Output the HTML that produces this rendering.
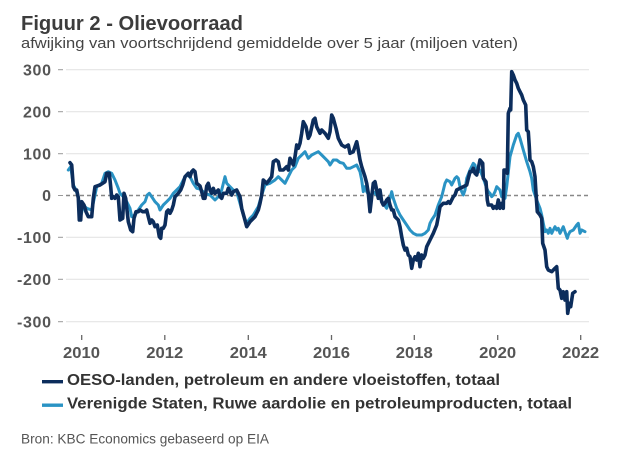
<!DOCTYPE html>
<html><head><meta charset="utf-8"><style>
html,body{margin:0;padding:0;background:#fff;}
svg{display:block;}
text{font-family:"Liberation Sans",sans-serif;}
</style></head><body>
<svg width="626" height="458" viewBox="0 0 626 458" xmlns="http://www.w3.org/2000/svg">
<rect width="626" height="458" fill="#fff"/>
<text x="21" y="30" font-size="20" font-weight="bold" fill="#3c3c3c" textLength="222" lengthAdjust="spacingAndGlyphs">Figuur 2 - Olievoorraad</text>
<text x="21" y="48" font-size="15" fill="#444" textLength="497" lengthAdjust="spacingAndGlyphs">afwijking van voortschrijdend gemiddelde over 5 jaar (miljoen vaten)</text>
<g stroke="#e4e4e4" stroke-width="1.2">
<line x1="66" y1="69.7" x2="589" y2="69.7"/>
<line x1="66" y1="111.7" x2="589" y2="111.7"/>
<line x1="66" y1="153.7" x2="589" y2="153.7"/>
<line x1="66" y1="237.3" x2="589" y2="237.3"/>
<line x1="66" y1="279.3" x2="589" y2="279.3"/>
<line x1="66" y1="321.7" x2="589" y2="321.7"/>
</g>
<g stroke="#999" stroke-width="1">
<line x1="58" y1="69.7" x2="63" y2="69.7"/>
<line x1="58" y1="111.7" x2="63" y2="111.7"/>
<line x1="58" y1="153.7" x2="63" y2="153.7"/>
<line x1="58" y1="195.5" x2="63" y2="195.5"/>
<line x1="58" y1="237.3" x2="63" y2="237.3"/>
<line x1="58" y1="279.3" x2="63" y2="279.3"/>
<line x1="58" y1="321.7" x2="63" y2="321.7"/>
</g>
<line x1="66" y1="195.5" x2="589" y2="195.5" stroke="#888" stroke-width="1.6" stroke-dasharray="4,3"/>
<g font-size="16" font-weight="bold" fill="#555" text-anchor="end" lengthAdjust="spacingAndGlyphs">
<text x="51" y="75.5" textLength="28">300</text>
<text x="51" y="117.5" textLength="28">200</text>
<text x="51" y="159.5" textLength="28">100</text>
<text x="51" y="201" textLength="9.5">0</text>
<text x="51" y="243" textLength="34">-100</text>
<text x="51" y="285" textLength="34">-200</text>
<text x="51" y="327.5" textLength="34">-300</text>
</g>
<g stroke="#666" stroke-width="1.3">
<line x1="81.7" y1="335" x2="81.7" y2="340"/>
<line x1="164.8" y1="335" x2="164.8" y2="340"/>
<line x1="248.3" y1="335" x2="248.3" y2="340"/>
<line x1="331.5" y1="335" x2="331.5" y2="340"/>
<line x1="414.3" y1="335" x2="414.3" y2="340"/>
<line x1="497.7" y1="335" x2="497.7" y2="340"/>
<line x1="580.7" y1="335" x2="580.7" y2="340"/>
</g>
<g font-size="16" font-weight="bold" fill="#555" text-anchor="middle">
<text x="81.5" y="358" textLength="37" lengthAdjust="spacingAndGlyphs">2010</text>
<text x="164.8" y="358" textLength="37" lengthAdjust="spacingAndGlyphs">2012</text>
<text x="248.3" y="358" textLength="37" lengthAdjust="spacingAndGlyphs">2014</text>
<text x="331.5" y="358" textLength="37" lengthAdjust="spacingAndGlyphs">2016</text>
<text x="414.3" y="358" textLength="37" lengthAdjust="spacingAndGlyphs">2018</text>
<text x="497.7" y="358" textLength="37" lengthAdjust="spacingAndGlyphs">2020</text>
<text x="580.7" y="358" textLength="37" lengthAdjust="spacingAndGlyphs">2022</text>
</g>
<polyline fill="none" stroke="#2a93c4" stroke-width="3" stroke-linejoin="round" stroke-linecap="round" points="68.3,170 70.7,166.7 73.3,185 75,188 78.3,196.7 80.7,216.7 83.3,205 86.7,208.3 91.7,210 95,195 96.7,186.7 101.7,183.3 105,173.3 108.3,171.7 111.7,173.3 115,180 118.3,188.3 120,193.3 123.3,196.7 126.7,201.7 130,208.3 131.7,216.7 135,215 138.3,210 141.7,205 145,201.7 147.3,195 149.3,193.3 151.7,196.7 155,201.7 158.3,205 160,210 163.3,205 166.7,201.7 170,198.3 173.3,193.3 176.7,190 180,186.7 183.3,180 186.7,175 190,176.7 193.3,183.3 196.7,188.3 200,189 205,193.3 210,195 215,200 218.3,196.7 221.7,190 225,176.7 226.7,183.3 230,186.7 233.3,190 236.7,191.7 240,203.3 243.3,215 246.7,223.3 250,218.3 253.3,215 258.3,206.7 261.7,195 265,185 270,183.3 275,180 278.3,176.7 281.7,180 285,183.3 288.3,176.7 291.7,170 295,166.7 298.3,158.3 301.7,155 305,151.7 308.3,158.3 311.7,155 315,153.3 318.3,151.7 321.7,155 325,158.3 328.3,161.7 330,165 333.3,160 336.7,160 340,162.5 343.3,163.3 346.7,168.3 350,168.3 353.3,166.7 356.7,165 360,171.7 361.7,180 363.3,191.7 365,186.7 366.7,191.7 370,196.7 373.3,191.7 376.7,195 380,198.3 383.3,203.3 386.7,208.3 390,198.3 391.7,191.7 393.3,198.3 396.7,208.3 400,215 403.3,220 406.7,225 410,230 413.3,233.3 416.7,235 421.7,235 425,233.3 428.3,230 430,223.3 431.7,220 435,215 438.3,205 441.7,196.7 445,183.3 446.7,180 450,181.7 451.7,185 455,178.3 456.7,176.7 458.3,178.3 460,186.7 461.7,191.7 463.3,195 465,190 466.7,178.3 470,170 473.3,163.3 475,165 476.7,173.3 480,170 483.3,178.3 486.7,188.3 488.3,191.7 490,193.3 491.7,196.7 493.3,195 495,191.7 496.7,186.7 498.3,188.3 500,190 501.7,196.7 505,198.3 506.7,186.7 510,156.7 513.3,145 516.7,135 518.3,133.3 520,138.3 523.3,150 526.7,161.7 530,171.7 531.7,178.3 533.3,190 536.7,200 540,208.3 541.7,215 543.3,223.3 545,231.7 546.7,230 548.3,233.3 550,228.3 551.7,233.3 553.3,230 555,226.7 556.7,230 558.3,228.3 560,233.3 561.7,230 563.3,226.7 565,231.7 567.3,238.3 568.3,235 570,231.7 573.3,230 576.7,225 578.3,223.3 580,233.3 581.7,230 585,231.7"/>
<polyline fill="none" stroke="#0c2d5c" stroke-width="3.6" stroke-linejoin="round" stroke-linecap="round" points="70,162.7 71.7,165 73.3,186.7 75,190 76.7,190 78.3,198 79.3,220 80.7,220 81.7,201.7 84,205 86,211.7 88.3,216.7 91.7,216.7 93.3,198.3 95,186.7 100,185 105,181.7 106.7,173.3 109.3,173.3 110.7,186.7 111.7,198.3 113.3,196.7 115,198.3 116.7,195 118.3,196.7 120,220 122.7,218.3 124,193.3 125.7,198.3 128.3,221.7 130.7,230 132.7,231.7 134,218.3 136,211.7 138.3,211.7 140,210 142.7,211.7 145,211.7 146.7,210 148.3,216.7 150,223.3 151.7,220 153.3,221.7 155,226.7 157.3,225 159.3,236.7 160.7,238.3 161.7,228.3 163.3,228.3 165,225 166.7,211.7 168.3,210 170,213.3 171.7,210 173.3,205 175,196.7 176.7,195 178.3,193.3 180.7,190 182.7,185 185,176.7 188.3,173.3 190,176.7 191.7,171.7 193.3,170 195,171.7 196.7,183.3 200,186 201.7,191.7 203.3,198.3 205,198.3 206.7,186 208.3,183.3 210,190 211.7,193.3 213.3,188.3 215,193.3 218.3,190 220,196.7 221.7,198.3 223.3,193.3 226.7,193.3 228.3,188.3 230,191.7 231.7,195 233.3,191.7 236.7,190 238.3,193.3 240,196.7 241.7,208.3 244,216.7 246.7,226.7 250,221.7 255,216.7 258.3,210 260,203.3 261.7,195 263.3,180 265,181.7 266.7,183.3 269.3,180 271.7,176.7 273.3,161.7 276,160 278.3,161.7 280,170 283.3,170 286.7,166.7 288.3,170 290,158.3 291.7,161.7 293.3,165 295,156.7 296.7,145 298.3,148.3 300,143.3 301.7,133.3 303.3,121.7 306,126.7 308.3,138.3 310,135 313.3,120 315,118.3 316.7,126.7 320,133.3 321.7,130 325,133.3 328.3,138.3 330,131.7 331.7,115 333.3,118.3 336,128.3 338.3,138.3 341.7,145 345,147 348.3,145 350,153.3 353.3,151.7 356.7,141.7 358.3,150 360,160 361.7,166.7 365,176.7 366.7,183.3 368.3,193.3 370,211.7 371.7,196.7 373.3,183.3 375,181.7 376.7,190 378.3,198.3 380,190 381.7,201.7 383.3,205 385,203.3 386.7,200 388.3,198.3 390,205 391.7,210 393.3,210 395,216.7 398.3,220 400,226.7 401.7,236.7 403.3,245 405,250 406.7,248.3 408.3,255 410,256.7 411.7,268.3 413.3,260 415,256.7 416.7,260 418.3,253.3 420,266.7 421.7,255 423.3,258.3 425,255 426.7,246.7 430,240 433.3,233.3 436.7,225 438.3,216.7 440,206.7 443.3,203.3 446.7,203.3 448.3,201.7 450,203.3 453.3,196.7 455,195 456.7,190 460,188.3 463.3,186.7 466.7,185 468.3,178.3 470,171.7 471.7,171.7 473.3,168.3 475,173.3 476.7,175 478.3,168.3 480,160 482.7,163.3 483.3,178.3 486,181.7 487.3,200 488.3,205 491.7,205 493.3,208.3 495,206.7 496.7,208.3 498.3,200 500,208.3 501.7,203.3 503.3,208.3 504,170 506,170 507.3,173.3 508.3,113.3 510,108.3 510.7,110 511.7,71.7 513.3,75 515,80 516.7,83.3 518.3,88.3 520,91.7 521.7,95 523.3,100 525.7,105 526.7,130 528.3,131.7 529.3,146.7 530,160 531.7,161.7 533.3,166.7 535,176.7 536,193.3 537.3,211.7 540,215 541.7,218.3 542.7,243.3 545,250 546.7,266.7 548.3,270 551.7,271.7 555,268.3 556.7,266.7 558.3,288.3 560,290 561.7,298.3 563.3,291.7 565,300 566.7,291.7 567.7,313.3 569.3,303.3 570.7,306.7 572.7,293.3 575,291.7"/>
<rect x="42" y="380" width="21" height="3.4" fill="#0c2d5c"/>
<text x="67" y="385" font-size="15.5" font-weight="bold" fill="#333" textLength="433" lengthAdjust="spacingAndGlyphs">OESO-landen, petroleum en andere vloeistoffen, totaal</text>
<rect x="42" y="403.5" width="21" height="3.4" fill="#2a93c4"/>
<text x="67" y="408.5" font-size="15.5" font-weight="bold" fill="#333" textLength="505" lengthAdjust="spacingAndGlyphs">Verenigde Staten, Ruwe aardolie en petroleumproducten, totaal</text>
<text x="21" y="443.5" font-size="13.5" fill="#555" textLength="248" lengthAdjust="spacingAndGlyphs">Bron: KBC Economics gebaseerd op EIA</text>
</svg>
</body></html>
